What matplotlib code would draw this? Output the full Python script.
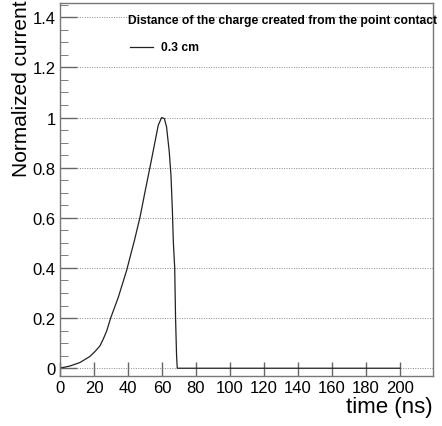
import matplotlib
matplotlib.use("Agg")
import matplotlib.pyplot as plt
from matplotlib.ticker import MultipleLocator, FixedLocator

# values
time_ns = [0, 2, 5.9, 11.8, 17.6, 20.5, 23.5, 25.5, 27.5, 29.8, 34.3, 39.2, 43.8,
           47.1, 50, 52.9, 55.9, 57.8, 59.8, 61.4, 62.7, 64.3, 65.3, 66.1, 66.7,
           67.5, 68.0, 68.6, 69.0, 200]
current = [0.002, 0.003, 0.009, 0.023, 0.047, 0.066, 0.089, 0.117, 0.149, 0.2,
           0.283, 0.39, 0.51, 0.603, 0.703, 0.8, 0.903, 0.969, 1.0, 0.996, 0.963,
           0.863, 0.77, 0.636, 0.503, 0.4, 0.2, 0.05, 0.0, 0.0]
legend_title = "Distance of the charge created from the point contact"
series_label = "0.3 cm"
x_ticks = [0, 20, 40, 60, 80, 100, 120, 140, 160, 180, 200]
y_ticks = [0, 0.2, 0.4, 0.6, 0.8, 1.0, 1.2, 1.4]
y_tick_labels = ["0", "0.2", "0.4", "0.6", "0.8", "1", "1.2", "1.4"]

plt.rcParams['font.family'] = ['Liberation Sans', 'DejaVu Sans']

fig = plt.figure(figsize=(4.42, 4.27), dpi=100)
ax = fig.add_axes([60/442, 1-377/427, 373/442, 373/427])

ax.plot(time_ns, current, color='#222222', lw=0.9)
ax.set_xlim(0, 219.5)
ax.set_ylim(-0.031, 1.457)

ax.xaxis.set_major_locator(FixedLocator(x_ticks))
ax.set_yticks(y_ticks)
ax.set_yticklabels(y_tick_labels)
ax.yaxis.set_minor_locator(MultipleLocator(0.05))
ax.tick_params(axis='both', which='major', direction='in', labelsize=12,
               color='#666666', width=1)
ax.tick_params(axis='y', which='major', length=12, pad=3)
ax.tick_params(axis='y', which='minor', direction='in', length=6, color='#666666')
ax.tick_params(axis='x', which='major', length=10, pad=3)
ax.yaxis.grid(True, linestyle=(0, (1, 1.5)), color='#888888', lw=0.7)
ax.set_axisbelow(True)
for s in ax.spines.values():
    s.set_color('#777777')
    s.set_linewidth(1)

# legend drawn by hand, as in the ROOT original
ax.text(128/442, 1-21/427, legend_title, transform=fig.transFigure,
        fontsize=8.7, fontweight='bold', ha='left', va='center')
ax.plot([130/442, 153/442], [1-48/427, 1-48/427], transform=fig.transFigure,
        color='#222222', lw=0.9, clip_on=False)
ax.text(161/442, 1-48/427, series_label, transform=fig.transFigure,
        fontsize=8.7, fontweight='bold', ha='left', va='center')

fig.text(433/442, 1-413/427, "time (ns)", fontsize=16, ha='right', va='baseline')
fig.text(22/442, 1.0, "Normalized current", fontsize=15, rotation=90,
         ha='center', va='top')

fig.savefig("out.png", dpi=100)
